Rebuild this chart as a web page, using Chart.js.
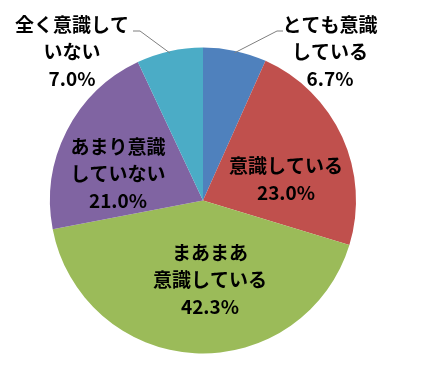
<!DOCTYPE html>
<html>
<head>
<meta charset="utf-8">
<script src="https://cdn.jsdelivr.net/npm/chart.js@4.4.1/dist/chart.umd.min.js"></script>
<style>
  html, body { margin: 0; padding: 0; background: #fff; }
  #wrap { width: 421px; height: 389px; }
</style>
</head>
<body>
<div id="wrap"><canvas id="pieChart" width="421" height="389"></canvas></div>
<script>
// データ
const categories = ['とても意識\nしている', '意識している', 'まあまあ\n意識している', 'あまり意識\nしていない', '全く意識して\nいない'];
const percents = [6.7, 23.0, 42.3, 21.0, 7.0];
const sliceColors = ['#4F81BD', '#C0504D', '#9BBB59', '#8064A2', '#4BACC6'];

// ラベルの配置（ブロック中心）と引き出し線
const labelLayout = [
  { x: 330, y: 52, leader: [[283, 31], [277, 31]] },
  { x: 286, y: 179 },
  { x: 210, y: 280 },
  { x: 118, y: 174 },
  { x: 72, y: 52, leader: [[133, 31], [140, 31]] }
];

const pieLabels = {
  id: 'pieLabels',
  afterDraw(chart) {
    const ctx = chart.ctx;
    const arcs = chart.getDatasetMeta(0).data;
    ctx.save();
    arcs.forEach((arc, i) => {
      const pos = labelLayout[i];
      // 引き出し線
      if (pos.leader) {
        const mid = (arc.startAngle + arc.endAngle) / 2;
        const ex = arc.x + Math.cos(mid) * (arc.outerRadius - 2);
        const ey = arc.y + Math.sin(mid) * (arc.outerRadius - 2);
        ctx.strokeStyle = '#7f7f7f';
        ctx.lineWidth = 1;
        ctx.beginPath();
        ctx.moveTo(pos.leader[0][0], pos.leader[0][1]);
        ctx.lineTo(pos.leader[1][0], pos.leader[1][1]);
        ctx.lineTo(ex, ey);
        ctx.stroke();
      }
      const lines = categories[i].split('\n').concat([percents[i].toFixed(1) + '%']);
      const lh = 27;
      const top = pos.y - (lines.length - 1) * lh / 2;
      ctx.fillStyle = '#000';
      ctx.font = 'bold 19px "Noto Sans CJK JP", sans-serif';
      ctx.textAlign = 'center';
      ctx.textBaseline = 'middle';
      lines.forEach((t, k) => ctx.fillText(t, pos.x, top + k * lh));
    });
    ctx.restore();
  }
};

const ctxPie = document.getElementById('pieChart').getContext('2d');
const pieChart = new Chart(ctxPie, {
  type: 'pie',
  data: {
    labels: categories,
    datasets: [{
      data: percents,
      backgroundColor: sliceColors,
      borderWidth: 0
    }]
  },
  options: {
    responsive: false,
    animation: false,
    layout: { padding: { top: 47, bottom: 35, left: 50, right: 65 } },
    plugins: {
      legend: { display: false },
      tooltip: { enabled: false }
    }
  },
  plugins: [pieLabels]
});
</script>
</body>
</html>
